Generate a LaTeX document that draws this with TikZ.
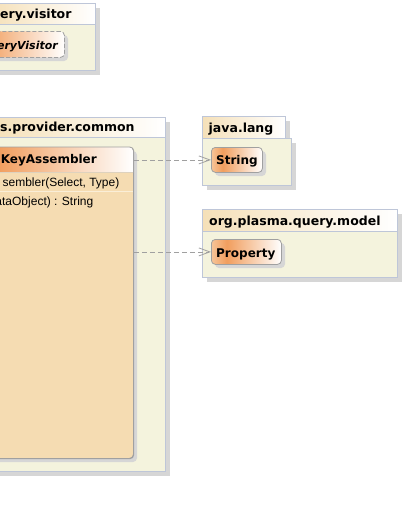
\documentclass[tikz,border=0pt]{standalone}
\usepackage{fontspec}
\setmainfont{DejaVu Sans}
\newfontfamily\memfont{Liberation Sans}
\usetikzlibrary{arrows.meta}
\definecolor{pkgfill}{RGB}{244,243,221}
\definecolor{pkgline}{RGB}{190,198,216}
\definecolor{tabA}{RGB}{245,224,184}
\definecolor{clsA}{RGB}{246,196,152}
\definecolor{clsB}{RGB}{241,158,94}
\definecolor{clsline}{RGB}{160,160,160}
\definecolor{kabody}{RGB}{245,220,178}
\definecolor{shadowc}{RGB}{214,214,214}
\definecolor{arrowc}{RGB}{160,160,160}
\definecolor{hdrline}{RGB}{222,210,190}
\definecolor{rowline}{RGB}{250,238,215}
\pgfdeclarehorizontalshading{clsgrad}{100bp}{color(0bp)=(clsA); color(25bp)=(clsA); color(36bp)=(clsB); color(75bp)=(white); color(100bp)=(white)}
\pgfdeclarehorizontalshading{tabgrad}{100bp}{color(0bp)=(tabA); color(25bp)=(tabA); color(75bp)=(white); color(100bp)=(white)}
\begin{document}
\begin{tikzpicture}[x=1pt,y=-1pt,
  pkgbody/.style={fill=pkgfill, draw=pkgline, line width=0.8pt},
  pkgtab/.style={shading=tabgrad, draw=pkgline, line width=0.8pt},
  shadowbox/.style={fill=shadowc},
  rshadow/.style={fill=shadowc, rounded corners=4pt},
  clsbox/.style={shading=clsgrad, draw=clsline, line width=0.8pt, rounded corners=4pt, inner sep=0pt, anchor=north west},
  pkglabel/.style={inner sep=0pt, font=\fontsize{12.5}{14}\selectfont\bfseries},
  clslabel/.style={inner sep=0pt, font=\fontsize{12}{14}\selectfont\bfseries},
  memlabel/.style={inner sep=0pt, font=\fontsize{12}{14}\selectfont\memfont, anchor=base east},
  dep/.style={draw=arrowc, line width=0.8pt, dash pattern=on 5pt off 3pt, -{Straight Barb[length=11pt,width=8pt]}}
]
\useasboundingbox (0,0) rectangle (405,514);
\clip (0,0) rectangle (405,514);

% ---- package ...query.visitor
\fill[shadowbox] (-10,8) rectangle (100,29);
\fill[shadowbox] (-10,29) rectangle (100,75);
\path[pkgtab] (-10,3) rectangle (95,24);
\path[pkgbody] (-10,24) rectangle (95,70);
\node[pkglabel, anchor=base west] (pvis) at (0,19) {ery.visitor};
\fill[rshadow] (-36,35) rectangle (68,61);
\node[clsbox, dashed, dash pattern=on 4pt off 2pt, minimum width=104pt, minimum height=26pt] (qv) at (-40,31) {};
\node[inner sep=0pt, font=\fontsize{11}{13}\selectfont\bfseries\itshape, anchor=base east] (qvl) at (58,49.5) {eryVisitor};

% ---- package ...provider.common
\fill[shadowbox] (-10,122) rectangle (170,142);
\fill[shadowbox] (-10,142) rectangle (170,476);
\path[pkgtab] (-10,117) rectangle (165,137);
\path[pkgbody] (-10,137) rectangle (165,471);
\node[pkglabel, anchor=base west] (pcom) at (0,131) {s.provider.common};

% KeyAssembler class
\fill[rshadow] (-36,151) rectangle (137,462);
\node[fill=kabody, draw=clsline, line width=0.8pt, rounded corners=4pt, inner sep=0pt, anchor=north west, minimum width=173pt, minimum height=311pt] (ka) at (-40,147) {};
\begin{scope}
  \clip (-40,147) rectangle (133,172);
  \path[shading=clsgrad, rounded corners=4pt] (-40,147) rectangle (133,458);
\end{scope}
\draw[hdrline, line width=0.8pt] (-40,172) -- (132.6,172);
\draw[rowline, line width=0.8pt] (-40,191) -- (132.6,191);
\draw[clsline, line width=0.8pt, rounded corners=4pt] (ka.north west) rectangle (ka.south east);
\node[clslabel, anchor=base east] (kal) at (97,163.5) {KeyAssembler};
\node[memlabel] (m1) at (119.5,186) {sembler(Select, Type)};
\node[memlabel] (m2) at (93.5,205) {ataObject) : String};

% ---- package java.lang
\fill[shadowbox] (207,121) rectangle (290,143);
\fill[shadowbox] (207,143) rectangle (296,190);
\path[pkgtab] (202,116) rectangle (285,138);
\path[pkgbody] (202,138) rectangle (291,185);
\node[pkglabel, anchor=base west] (pjl) at (208.5,132.5) {java.lang};
\fill[rshadow] (215,151) rectangle (266,176);
\node[clsbox, minimum width=51pt, minimum height=25pt] (str) at (211,147) {};
\node[clslabel, anchor=base west] (strl) at (216,164.5) {String};

% ---- package org.plasma.query.model
\fill[shadowbox] (207,214) rectangle (402,236);
\fill[shadowbox] (207,236) rectangle (402,282);
\path[pkgtab] (202,209) rectangle (397,231);
\path[pkgbody] (202,231) rectangle (397,277);
\node[pkglabel, anchor=base west] (pmod) at (209,225.5) {org.plasma.query.model};
\fill[rshadow] (215,243) rectangle (285,268);
\node[clsbox, minimum width=70pt, minimum height=25pt] (prop) at (211,239) {};
\node[clslabel, anchor=base west] (propl) at (216,257) {Property};

% ---- dependencies
\draw[dep] (ka.east |- str.west) -- (str.west);
\draw[dep] (ka.east |- prop.west) -- (prop.west);
\end{tikzpicture}
\end{document}
